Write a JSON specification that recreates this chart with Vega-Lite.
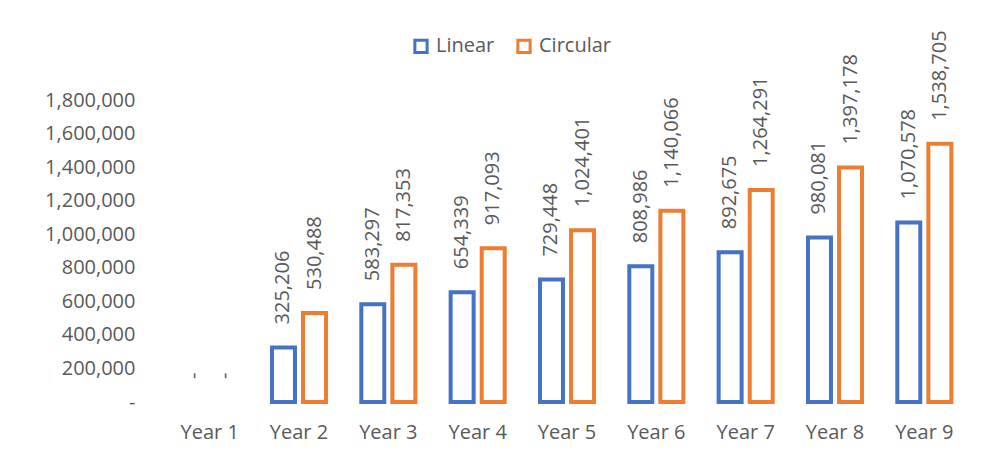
{
  "$schema": "https://vega.github.io/schema/vega-lite/v6.json",
  "width": 804,
  "height": 302,
  "autosize": {"type": "none"},
  "padding": {"left": 165, "top": 100, "right": 26, "bottom": 55},
  "background": "white",
  "config": {
    "view": {"stroke": null},
    "font": "Open Sans",
    "text": {"font": "Open Sans"}
  },
  "data": {
    "values": [
      {"year": "Year 1", "series": "Linear", "v": 0},
      {"year": "Year 1", "series": "Circular", "v": 0},
      {"year": "Year 2", "series": "Linear", "v": 325206},
      {"year": "Year 2", "series": "Circular", "v": 530488},
      {"year": "Year 3", "series": "Linear", "v": 583297},
      {"year": "Year 3", "series": "Circular", "v": 817353},
      {"year": "Year 4", "series": "Linear", "v": 654339},
      {"year": "Year 4", "series": "Circular", "v": 917093},
      {"year": "Year 5", "series": "Linear", "v": 729448},
      {"year": "Year 5", "series": "Circular", "v": 1024401},
      {"year": "Year 6", "series": "Linear", "v": 808986},
      {"year": "Year 6", "series": "Circular", "v": 1140066},
      {"year": "Year 7", "series": "Linear", "v": 892675},
      {"year": "Year 7", "series": "Circular", "v": 1264291},
      {"year": "Year 8", "series": "Linear", "v": 980081},
      {"year": "Year 8", "series": "Circular", "v": 1397178},
      {"year": "Year 9", "series": "Linear", "v": 1070578},
      {"year": "Year 9", "series": "Circular", "v": 1538705}
    ]
  },
  "encoding": {
    "x": {
      "field": "year",
      "type": "nominal",
      "scale": {"paddingInner": 0.395, "paddingOuter": 0.1975},
      "axis": {
        "title": null,
        "labelAngle": 0,
        "domain": false,
        "ticks": false,
        "labelFontSize": 20,
        "labelColor": "#595959",
        "labelPadding": 20,
        "labelFont": "Open Sans"
      }
    },
    "xOffset": {
      "field": "series",
      "type": "nominal",
      "sort": ["Linear", "Circular"],
      "scale": {"paddingInner": 0.26, "paddingOuter": 0}
    },
    "y": {
      "field": "v",
      "type": "quantitative",
      "scale": {"domain": [0, 1800000], "nice": false},
      "axis": {
        "title": null,
        "values": [0, 200000, 400000, 600000, 800000, 1000000, 1200000, 1400000, 1600000, 1800000],
        "format": ",.0f",
        "labelExpr": "datum.value == 0 ? '-\u00a0\u00a0\u00a0' : datum.label",
        "grid": false,
        "domain": false,
        "ticks": false,
        "labelPadding": 30,
        "labelFontSize": 20,
        "labelColor": "#595959",
        "labelFont": "Open Sans"
      }
    }
  },
  "layer": [
    {
      "transform": [{"filter": "datum.v > 0"}],
      "mark": {"type": "bar", "fill": "white", "strokeWidth": 4},
      "encoding": {
        "stroke": {
          "field": "series",
          "type": "nominal",
          "sort": ["Linear", "Circular"],
          "scale": {"domain": ["Linear", "Circular"], "range": ["#4472C4", "#ED7D31"]},
          "legend": {
            "title": null,
            "orient": "none",
            "direction": "horizontal",
            "legendX": 246,
            "legendY": -64,
            "symbolType": "square",
            "symbolFillColor": "white",
            "symbolStrokeWidth": 3,
            "symbolSize": 150,
            "labelFontSize": 20,
            "labelColor": "#595959",
            "labelFont": "Open Sans",
            "labelOffset": 5,
            "columnPadding": 16
          }
        }
      }
    },
    {
      "mark": {
        "type": "text",
        "angle": 270,
        "align": "left",
        "baseline": "middle",
        "dx": 23,
        "fontSize": 20,
        "color": "#595959",
        "font": "Open Sans",
        "text": {"expr": "datum.v == 0 ? '-' : format(datum.v, ',')"}
      },
      "encoding": {}
    }
  ]
}
